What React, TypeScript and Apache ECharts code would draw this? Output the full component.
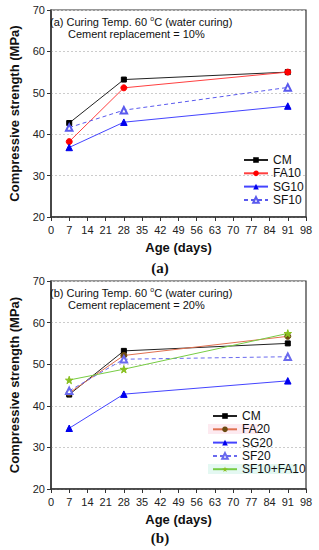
import React, { useEffect, useRef } from "react";
import * as echarts from "echarts";

const ages = [7, 28, 91];
const cmA = [42.7, 53.2, 55.0];
const fa10 = [38.2, 51.2, 55.0];
const sg10 = [36.8, 42.9, 46.8];
const sf10 = [41.6, 45.8, 51.3];
const cmB = [42.7, 53.2, 55.0];
const fa20 = [43.1, 52.1, 56.7];
const sg20 = [34.6, 42.8, 46.0];
const sf20 = [43.6, 51.2, 51.8];
const sf10fa10 = [46.2, 48.8, 57.4];

const legendA = ["CM", "FA10", "SG10", "SF10"];
const legendB = ["CM ", "FA20", "SG20", "SF20", "SF10+FA10"];

const FONT = "'Liberation Sans', Arial, sans-serif";
const STAR = "path://M50,0 L61,35 L98,35 L68,57 L79,91 L50,70 L21,91 L32,57 L2,35 L39,35 Z";

const pts = (vals: number[]) => ages.map((a, i) => [a, vals[i]]);

function mkX(gi: number) {
  return {
    type: "value",
    gridIndex: gi,
    min: 0,
    max: 98,
    interval: 7,
    name: "Age (days)",
    nameLocation: "middle",
    nameGap: 24,
    nameTextStyle: { fontFamily: FONT, fontSize: 13, fontWeight: "bold", color: "#111" },
    axisLine: { show: true, lineStyle: { color: "#333", width: 1.5 } },
    axisTick: { show: true, inside: false, length: 4, lineStyle: { color: "#333" } },
    axisLabel: { fontFamily: FONT, fontSize: 11, color: "#222", margin: 7 },
    splitLine: { show: false },
  };
}
function mkY(gi: number) {
  return {
    type: "value",
    gridIndex: gi,
    min: 20,
    max: 70,
    interval: 10,
    name: "Compressive strength (MPa)",
    nameLocation: "middle",
    nameGap: 30,
    nameTextStyle: { fontFamily: FONT, fontSize: 13, fontWeight: "bold", color: "#111" },
    axisLine: { show: true, lineStyle: { color: "#333", width: 1.5 } },
    axisTick: { show: true, inside: false, length: 4, lineStyle: { color: "#333" } },
    axisLabel: { fontFamily: FONT, fontSize: 11, color: "#222", margin: 6 },
    splitLine: { show: true, lineStyle: { color: "#ccc", type: [2, 2], width: 1 } },
  };
}

function line(name: string, gi: number, vals: number[], color: string, lineColor: string, symbol: string, size: number, dashed = false) {
  return {
    type: "line",
    name,
    xAxisIndex: gi,
    yAxisIndex: gi,
    data: pts(vals),
    symbol,
    symbolSize: size,
    itemStyle: { color, borderColor: color },
    lineStyle: { color: lineColor, width: 1, type: dashed ? [4, 3] : "solid" },
    z: 3,
  };
}

export default function App() {
  const ref = useRef<HTMLDivElement>(null);
  useEffect(() => {
    const chart = echarts.init(ref.current!, null, { renderer: "svg" });
    const legendCommon = {
      orient: "vertical",
      padding: 0,
      itemWidth: 24,
      itemHeight: 7,
      itemGap: 1.3,
      textStyle: { fontFamily: FONT, fontSize: 12, lineHeight: 12, color: "#111" },
      selectedMode: false,
    };
    chart.setOption({
      animation: false,
      backgroundColor: "#fff",
      grid: [
        { left: 49, top: 10, width: 257, height: 207, show: true, borderColor: "#333", borderWidth: 1.2 },
        { left: 49, top: 281, width: 257, height: 208, show: true, borderColor: "#333", borderWidth: 1.2 },
      ],
      xAxis: [mkX(0), mkX(1)],
      yAxis: [mkY(0), mkY(1)],
      legend: [
        { ...legendCommon, data: legendA, left: 243, top: 154 },
        { ...legendCommon, data: legendB, left: 212, top: 410 },
      ],
      series: [
        line("CM", 0, cmA, "#000", "#222", "rect", 5),
        line("FA10", 0, fa10, "#ff0000", "#ff4040", "circle", 6),
        line("SG10", 0, sg10, "#0000ee", "#4444ff", "triangle", 6.5),
        line("SF10", 0, sf10, "#5a5aee", "#5a5aee", "emptyTriangle", 6.5, true),
        line("CM ", 1, cmB, "#000", "#222", "rect", 5),
        line("FA20", 1, fa20, "#6b4a10", "#e07050", "circle", 6),
        line("SG20", 1, sg20, "#0000ee", "#4444ff", "triangle", 6.5),
        line("SF20", 1, sf20, "#6a6aee", "#6a6aee", "emptyTriangle", 6.5, true),
        line("SF10+FA10", 1, sf10fa10, "#88c020", "#77cc44", STAR, 7.5),
      ],
      graphic: [
        { type: "rect", z: 1, shape: { x: 208, y: 424, width: 50, height: 10 }, style: { fill: "#fdeaf0" } },
        { type: "rect", z: 1, shape: { x: 208, y: 464, width: 90, height: 10 }, style: { fill: "#e4f8f2" } },
        {
          type: "text", left: 50, top: 15, z: 10,
          style: {
            text: "(a) Curing Temp. 60 {sup|o}C (water curing)",
            font: `11px ${FONT}`, fill: "#111",
            rich: { sup: { fontSize: 7, verticalAlign: "top", padding: [0, 0, 6, 0], fontFamily: FONT } },
          },
        },
        { type: "text", left: 68, top: 28, z: 10, style: { text: "Cement replacement = 10%", font: `11px ${FONT}`, fill: "#111" } },
        {
          type: "text", left: 50, top: 286, z: 10,
          style: {
            text: "(b) Curing Temp. 60 {sup|o}C (water curing)",
            font: `11px ${FONT}`, fill: "#111",
            rich: { sup: { fontSize: 7, verticalAlign: "top", padding: [0, 0, 6, 0], fontFamily: FONT } },
          },
        },
        { type: "text", left: 68, top: 299, z: 10, style: { text: "Cement replacement = 20%", font: `11px ${FONT}`, fill: "#111" } },
        { type: "text", x: 160, y: 268, z: 10, style: { text: "(a)", font: `bold 15px 'Liberation Serif', 'DejaVu Serif', serif`, fill: "#111", align: "center", verticalAlign: "middle" } },
        { type: "text", x: 160, y: 538, z: 10, style: { text: "(b)", font: `bold 15px 'Liberation Serif', 'DejaVu Serif', serif`, fill: "#111", align: "center", verticalAlign: "middle" } },
      ],
    });
    return () => chart.dispose();
  }, []);
  return <div ref={ref} style={{ position: "absolute", left: 0, top: 0, width: 319, height: 550 }} />;
}
